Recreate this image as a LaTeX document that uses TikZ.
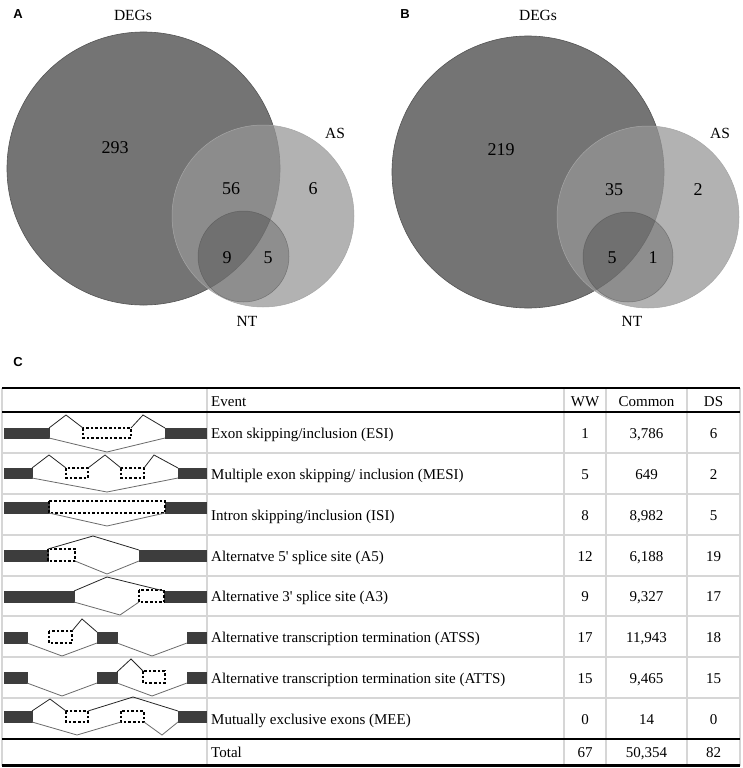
\documentclass[tikz,border=0pt]{standalone}
\usepackage{fontspec}
\setmainfont{Liberation Serif}
\newfontfamily\lsans{Liberation Sans}
\definecolor{degfill}{gray}{0.455}
\definecolor{degline}{gray}{0.33}
\definecolor{asfill}{gray}{0.59}
\definecolor{gridgray}{gray}{0.84}
\definecolor{exonc}{gray}{0.24}
\definecolor{lowc}{gray}{0.42}
\begin{document}
\begin{tikzpicture}[x=1pt,y=-1pt,
  panel/.style={font=\lsans\bfseries\fontsize{13}{14}\selectfont, inner sep=0pt},
  setlab/.style={font=\fontsize{15.5}{16}\selectfont, inner sep=0pt},
  num/.style={font=\fontsize{18}{19}\selectfont, inner sep=0pt},
  degs/.style={fill=degfill, draw=degline, line width=0.6pt},
  ascirc/.style={fill=asfill, fill opacity=0.735, draw=gray!70, line width=0.5pt},
  ntcirc/.style={fill=black, fill opacity=0.2, draw=gray!60!black, draw opacity=0.5, line width=0.5pt},
  tx/.style={font=\fontsize{15}{16}\selectfont, inner sep=0pt, anchor=base west},
  cx/.style={font=\fontsize{15}{16}\selectfont, inner sep=0pt, anchor=base},
  grid/.style={draw=gridgray, line width=1.3pt},
  rule/.style={draw=black, line width=1.3pt},
  exon/.style={fill=exonc, draw=exonc, line width=0.4pt},
  dbox/.style={draw=black, line width=1.1pt, dash pattern=on 2.6pt off 2pt},
  up/.style={draw=black!85, line width=0.8pt},
  low/.style={draw=lowc, line width=0.8pt}
]
\useasboundingbox (0,0) rectangle (743,768);
\fill[white] (0,0) rectangle (743,768);

% ---------- Panel A ----------
\node[panel] (labA) at (18,14) {A};
\path[degs] (143.5,168.5) circle[radius=136.5];
\path[ascirc] (263,216) circle[radius=91];
\path[ntcirc] (243.5,256.5) circle[radius=45.5];
\node[setlab] (degA) at (133,15) {DEGs};
\node[setlab] (asA) at (335,133) {AS};
\node[setlab] (ntA) at (247,321) {NT};
\node[num] (a293) at (115,148) {293};
\node[num] (a56) at (231,189) {56};
\node[num] (a6) at (313,189) {6};
\node[num] (a9) at (227,258) {9};
\node[num] (a5) at (268,258) {5};

% ---------- Panel B ----------
\node[panel] (labB) at (405,14) {B};
\path[degs] (528,172) circle[radius=136];
\path[ascirc] (648,217) circle[radius=91];
\path[ntcirc] (628,257) circle[radius=45];
\node[setlab] (degB) at (538,15) {DEGs};
\node[setlab] (asB) at (720,133) {AS};
\node[setlab] (ntB) at (632,321) {NT};
\node[num] (b219) at (501,150) {219};
\node[num] (b35) at (614,190) {35};
\node[num] (b2) at (698,190) {2};
\node[num] (b5) at (612,258) {5};
\node[num] (b1) at (653,258) {1};

% ---------- Panel C ----------
\node[panel] (labC) at (18,362) {C};

% grid
\foreach \yy in {453,494,535,576,616,657,698} {\path[grid] (2,\yy) -- (740,\yy);}
\foreach \xx in {2,207,564,606,687,740} {\path[grid] (\xx,388) -- (\xx,766);}
\path[rule] (2,388) -- (740,388);
\path[draw=black, line width=1.8pt] (2,412) -- (740,412);
\path[draw=black, line width=1.8pt] (2,739) -- (740,739);
\path[draw=black, line width=3pt] (2,765.5) -- (740,765.5);

% header
\node[tx] (hEvent) at (211,406) {Event};
\node[cx] (hWW) at (585,406) {WW};
\node[cx] (hCom) at (646.5,406) {Common};
\node[cx] (hDS) at (713.5,406) {DS};

% rows: text
\node[tx] (r1) at (211,438) {Exon skipping/inclusion (ESI)};
\node[tx] (r2) at (211,479) {Multiple exon skipping/ inclusion (MESI)};
\node[tx] (r3) at (211,520) {Intron skipping/inclusion (ISI)};
\node[tx] (r4) at (211,561) {Alternatve 5\textquotesingle{} splice site (A5)};
\node[tx] (r5) at (211,601.5) {Alternative 3\textquotesingle{} splice site (A3)};
\node[tx] (r6) at (211,642) {Alternative transcription termination (ATSS)};
\node[tx] (r7) at (211,683) {Alternative transcription termination site (ATTS)};
\node[tx] (r8) at (211,724) {Mutually exclusive exons (MEE)};
\node[tx] (r9) at (211,757.5) {Total};

\node[cx] (w1) at (585,438) {1};
\node[cx] (w2) at (585,479) {5};
\node[cx] (w3) at (585,520) {8};
\node[cx] (w4) at (585,561) {12};
\node[cx] (w5) at (585,601.5) {9};
\node[cx] (w6) at (585,642) {17};
\node[cx] (w7) at (585,683) {15};
\node[cx] (w8) at (585,724) {0};
\node[cx] (w9) at (585,757.5) {67};

\node[cx] (c1) at (646.5,438) {3,786};
\node[cx] (c2) at (646.5,479) {649};
\node[cx] (c3) at (646.5,520) {8,982};
\node[cx] (c4) at (646.5,561) {6,188};
\node[cx] (c5) at (646.5,601.5) {9,327};
\node[cx] (c6) at (646.5,642) {11,943};
\node[cx] (c7) at (646.5,683) {9,465};
\node[cx] (c8) at (646.5,724) {14};
\node[cx] (c9) at (646.5,757.5) {50,354};

\node[cx] (d1) at (713.5,438) {6};
\node[cx] (d2) at (713.5,479) {2};
\node[cx] (d3) at (713.5,520) {5};
\node[cx] (d4) at (713.5,561) {19};
\node[cx] (d5) at (713.5,601.5) {17};
\node[cx] (d6) at (713.5,642) {18};
\node[cx] (d7) at (713.5,683) {15};
\node[cx] (d8) at (713.5,724) {0};
\node[cx] (d9) at (713.5,757.5) {82};

% ---------- splice diagrams ----------
% Row 1 ESI
\path[exon] (4,428) rectangle (49,438);
\path[exon] (165,428) rectangle (206,438);
\path[dbox] (83,428) rectangle (131,438);
\path[up] (49,428) -- (66,415) -- (83,428);
\path[up] (131,428) -- (143,415) -- (165,428);
\path[low] (49,438) -- (107,452) -- (165,438);

% Row 2 MESI
\path[exon] (4,468) rectangle (32,478);
\path[exon] (178,468) rectangle (206,478);
\path[dbox] (66,468) rectangle (88,478);
\path[dbox] (121,468) rectangle (144,478);
\path[up] (32,468) -- (49,455) -- (66,468);
\path[up] (88,468) -- (105,455) -- (121,468);
\path[up] (144,468) -- (154,455) -- (178,468);
\path[low] (32,478) -- (107,492) -- (178,478);

% Row 3 ISI
\path[exon] (4,502) rectangle (49,513);
\path[exon] (165,502) rectangle (206,513);
\path[dbox] (49,501) rectangle (165,513);
\path[low] (49,513) -- (107,526) -- (165,513);

% Row 4 A5
\path[exon] (4,550) rectangle (48,561);
\path[exon] (139,550) rectangle (206,561);
\path[dbox] (48,549) rectangle (75,561);
\path[up] (48,549) -- (93,536) -- (139,550);
\path[low] (75,561) -- (107,574) -- (139,561);

% Row 5 A3
\path[exon] (4,591) rectangle (74,602);
\path[exon] (164,591) rectangle (206,602);
\path[dbox] (139,590) rectangle (164,602);
\path[up] (74,591) -- (107,577) -- (164,591);
\path[low] (74,602) -- (120,615) -- (139,602);

% Row 6 ATSS
\path[exon] (4,632) rectangle (27,643);
\path[exon] (97,632) rectangle (117,643);
\path[exon] (187,632) rectangle (206,643);
\path[dbox] (49,631) rectangle (72,643);
\path[up] (72,631) -- (82,619) -- (97,632);
\path[low] (27,643) -- (62,656) -- (97,643);
\path[low] (117,643) -- (152,656) -- (187,643);

% Row 7 ATTS
\path[exon] (4,672) rectangle (27,683);
\path[exon] (97,672) rectangle (117,683);
\path[exon] (187,672) rectangle (206,683);
\path[dbox] (143,671) rectangle (165,683);
\path[up] (117,672) -- (131,659) -- (143,671);
\path[low] (27,683) -- (62,696) -- (97,683);
\path[low] (117,683) -- (152,696) -- (187,683);

% Row 8 MEE
\path[exon] (4,711) rectangle (32,722);
\path[exon] (178,711) rectangle (206,722);
\path[dbox] (66,711) rectangle (88,722);
\path[dbox] (121,711) rectangle (144,722);
\path[up] (32,711) -- (50,699) -- (66,711);
\path[up] (88,711) -- (133,697) -- (178,711);
\path[low] (32,722) -- (77,735) -- (121,722);
\path[low] (144,722) -- (162,735) -- (178,722);
\end{tikzpicture}
\end{document}
